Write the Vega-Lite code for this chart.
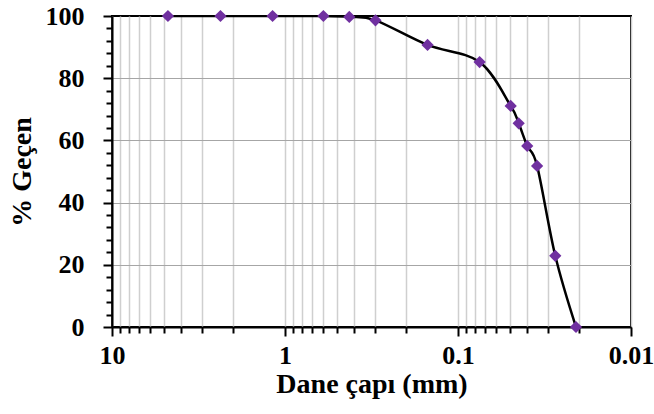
{
  "$schema": "https://vega.github.io/schema/vega-lite/v6.json",
  "width": 519,
  "height": 311,
  "autosize": "none",
  "padding": {"left": 112, "top": 16, "right": 23, "bottom": 87},
  "background": "white",
  "config": {
    "view": {"stroke": "black", "strokeWidth": 2},
    "axis": {
      "labelFont": "Liberation Serif",
      "titleFont": "Liberation Serif",
      "labelFontWeight": "bold",
      "titleFontWeight": "bold",
      "labelFontSize": 26,
      "titleFontSize": 28,
      "labelColor": "black",
      "titleColor": "black",
      "domainColor": "black",
      "domainWidth": 2,
      "tickColor": "black",
      "tickWidth": 2
    }
  },
  "data": {
    "values": [
      {"d": 4.75, "p": 100},
      {"d": 2.36, "p": 100},
      {"d": 1.18, "p": 100},
      {"d": 0.6, "p": 100},
      {"d": 0.425, "p": 99.7},
      {"d": 0.3, "p": 98.6},
      {"d": 0.15, "p": 90.7},
      {"d": 0.075, "p": 85.2},
      {"d": 0.0496, "p": 71.1},
      {"d": 0.0446, "p": 65.5},
      {"d": 0.0398, "p": 58.2},
      {"d": 0.0349, "p": 51.8},
      {"d": 0.0274, "p": 22.9},
      {"d": 0.0208, "p": 0}
    ]
  },
  "encoding": {
    "x": {
      "field": "d",
      "type": "quantitative",
      "scale": {"type": "log", "domain": [0.01, 10], "reverse": true, "nice": false},
      "axis": {
        "title": "Dane çapı (mm)",
        "titlePadding": 2,
        "values": [10, 9, 8, 7, 6, 5, 4, 3, 2, 1, 0.9, 0.8, 0.7, 0.6, 0.5, 0.4, 0.3, 0.2, 0.1, 0.09, 0.08, 0.07, 0.06, 0.05, 0.04, 0.03, 0.02, 0.01],
        "labelExpr": "abs(datum.value-10)<1e-9 ? '10' : abs(datum.value-1)<1e-9 ? '1' : abs(datum.value-0.1)<1e-9 ? '0.1' : abs(datum.value-0.01)<1e-9 ? '0.01' : ''",
        "labelPadding": 6,
        "tickSize": {"condition": {"test": "abs(datum.value-10)<1e-9 || abs(datum.value-1)<1e-9 || abs(datum.value-0.1)<1e-9 || abs(datum.value-0.01)<1e-9", "value": 9}, "value": 6},
        "grid": true,
        "gridColor": "#cfcfcf",
        "gridWidth": 1.5,
        "labelOverlap": false,
        "labelFlush": false
      }
    },
    "y": {
      "field": "p",
      "type": "quantitative",
      "scale": {"domain": [0, 100], "nice": false},
      "axis": {
        "title": "% Geçen",
        "titlePadding": 9,
        "values": [0, 4, 8, 12, 16, 20, 24, 28, 32, 36, 40, 44, 48, 52, 56, 60, 64, 68, 72, 76, 80, 84, 88, 92, 96, 100],
        "labelExpr": "datum.value % 20 == 0 ? datum.label : ''",
        "labelPadding": 19,
        "ticks": true,
        "tickSize": {"condition": {"test": "datum.value % 20 == 0", "value": 9}, "value": 6},
        "tickColor": "black",
        "tickWidth": 2,
        "grid": true,
        "gridWidth": 1,
        "gridColor": {"condition": {"test": "datum.value % 20 == 0 && datum.value > 0 && datum.value < 100", "value": "#a6a6a6"}, "value": "rgba(0,0,0,0)"},
        "labelOverlap": false,
        "labelFlush": false
      }
    }
  },
  "layer": [
    {
      "mark": {"type": "line", "color": "black", "strokeWidth": 2.5, "interpolate": "cardinal", "clip": true}
    },
    {
      "mark": {"type": "point", "shape": "diamond", "filled": true, "color": "#7030A0", "opacity": 1, "size": 150}
    }
  ]
}
